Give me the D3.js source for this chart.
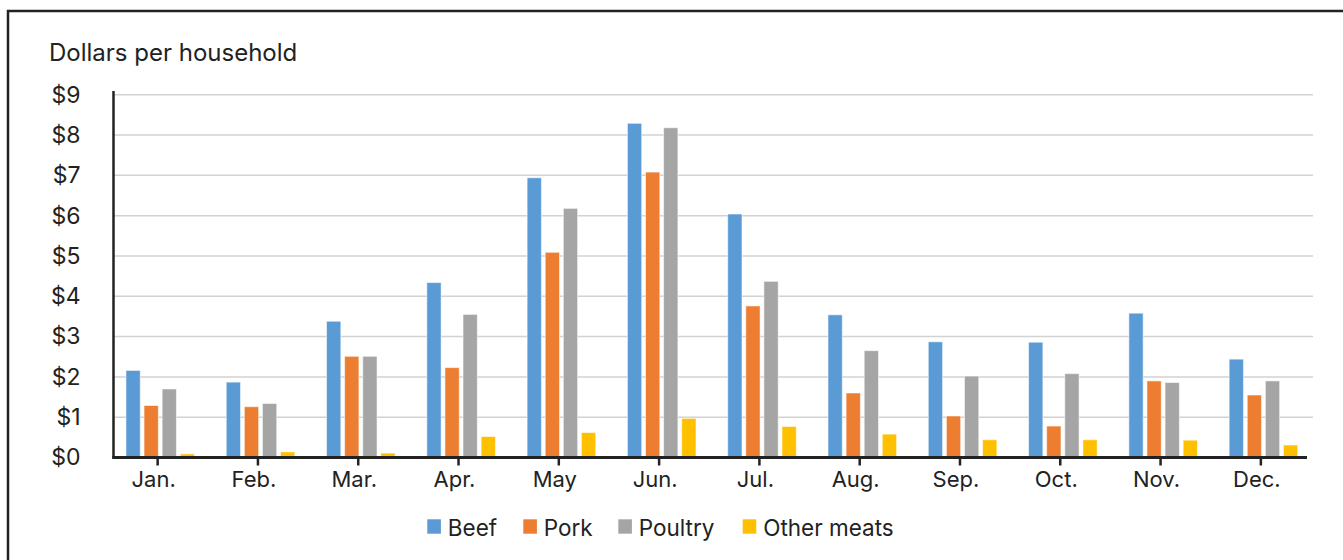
<!DOCTYPE html>
<html>
<head>
<meta charset="utf-8">
<script src="https://cdn.jsdelivr.net/npm/d3@7/dist/d3.min.js"></script>
<style>
  html, body { margin: 0; padding: 0; background: #fff; }
  svg { display: block; font-family: Inter, "Noto Sans", sans-serif; }
</style>
</head>
<body>
<svg id="chart" width="1343" height="560"></svg>
<script>
// Monthly spending on meat, dollars per household
const months = ["Jan.", "Feb.", "Mar.", "Apr.", "May", "Jun.", "Jul.", "Aug.", "Sep.", "Oct.", "Nov.", "Dec."];
const seriesNames = ["Beef", "Pork", "Poultry", "Other meats"];
const beef    = [2.16, 1.87, 3.38, 4.34, 6.94, 8.29, 6.04, 3.54, 2.87, 2.86, 3.58, 2.44];
const pork    = [1.29, 1.26, 2.51, 2.23, 5.09, 7.08, 3.76, 1.60, 1.03, 0.78, 1.90, 1.55];
const poultry = [1.70, 1.34, 2.51, 3.55, 6.18, 8.18, 4.37, 2.65, 2.02, 2.08, 1.86, 1.90];
const other   = [0.09, 0.14, 0.11, 0.52, 0.62, 0.97, 0.77, 0.58, 0.44, 0.44, 0.43, 0.31];
const yTicks  = [0, 1, 2, 3, 4, 5, 6, 7, 8, 9];
const colors  = ["#5b9bd5", "#ed7d31", "#a5a5a5", "#ffc000"];

const seriesValues = [beef, pork, poultry, other];
const rows = months.map((m, i) => ({
  month: m,
  values: seriesNames.map((s, j) => ({ key: s, value: seriesValues[j][i] }))
}));

const svg = d3.select("#chart");
const ink = "#222";

// Outer frame
svg.append("rect")
  .attr("x", 8).attr("y", 11)
  .attr("width", 1400).attr("height", 600)
  .attr("fill", "none").attr("stroke", ink).attr("stroke-width", 2.5);

const axisX = 113.5, baseY = 457.5, topY = 94.7, gridRight = 1313;

const x0 = d3.scaleBand().domain(months).range([107.5, 1311]).padding(0);
const x1 = d3.scaleBand().domain(seriesNames).range([0, 68.6]).paddingInner(0.21).paddingOuter(0);
const y = d3.scaleLinear().domain([0, 9]).range([baseY, topY]);

// Horizontal gridlines
svg.append("g").selectAll("line")
  .data(yTicks.filter(d => d > 0))
  .join("line")
  .attr("x1", axisX).attr("x2", gridRight)
  .attr("y1", d => y(d)).attr("y2", d => y(d))
  .attr("stroke", "#d2d2d2").attr("stroke-width", 1.5);

// Bars
const groupOffset = x0.bandwidth() / 2 - 31.7;
svg.append("g").selectAll("g")
  .data(rows)
  .join("g")
  .attr("transform", d => `translate(${x0(d.month) + groupOffset},0)`)
  .selectAll("rect")
  .data(d => d.values)
  .join("rect")
  .attr("x", d => x1(d.key))
  .attr("width", x1.bandwidth())
  .attr("y", d => y(d.value))
  .attr("height", d => baseY - y(d.value))
  .attr("fill", (d, i) => colors[i])
  .attr("stroke", "#ffffff").attr("stroke-opacity", 0.55).attr("stroke-width", 1);

// Y axis labels
const yAxis = svg.append("g")
  .attr("transform", `translate(${axisX},0)`)
  .call(d3.axisLeft(y).tickValues(yTicks).tickSize(0).tickPadding(33).tickFormat(d => "$" + d));
yAxis.select(".domain").remove();
yAxis.selectAll("text").attr("font-size", 23).attr("fill", ink).attr("font-family", "Inter, sans-serif");

// Y axis line
svg.append("line")
  .attr("x1", axisX).attr("x2", axisX)
  .attr("y1", 91).attr("y2", baseY + 1)
  .attr("stroke", ink).attr("stroke-width", 2.5);

// X axis
const xAxis = svg.append("g")
  .attr("transform", `translate(0,${baseY})`)
  .call(d3.axisBottom(x0).tickSize(8).tickPadding(6));
xAxis.select(".domain").remove();
xAxis.selectAll(".tick line").attr("stroke", ink).attr("stroke-width", 2.5);
xAxis.selectAll("text").attr("font-size", 22).attr("fill", ink)
  .attr("font-family", "Inter, sans-serif").attr("dx", -4);

svg.append("line")
  .attr("x1", axisX - 1.2).attr("x2", 1307)
  .attr("y1", baseY).attr("y2", baseY)
  .attr("stroke", ink).attr("stroke-width", 3);

// Axis title
svg.append("text")
  .attr("x", 49).attr("y", 60.5)
  .attr("font-size", 24).attr("fill", ink)
  .text("Dollars per household");

// Legend
const legendX = [427.3, 523.3, 618.3, 742.7];
const legend = svg.append("g").selectAll("g")
  .data(seriesNames)
  .join("g")
  .attr("transform", (d, i) => `translate(${legendX[i]},0)`);
legend.append("rect")
  .attr("x", 0).attr("y", 519.3)
  .attr("width", 13.6).attr("height", 14.4)
  .attr("fill", (d, i) => colors[i]);
legend.append("text")
  .attr("x", 20.5).attr("y", 535.5)
  .attr("font-size", 22.5).attr("fill", ink)
  .text(d => d);
</script>
</body>
</html>
